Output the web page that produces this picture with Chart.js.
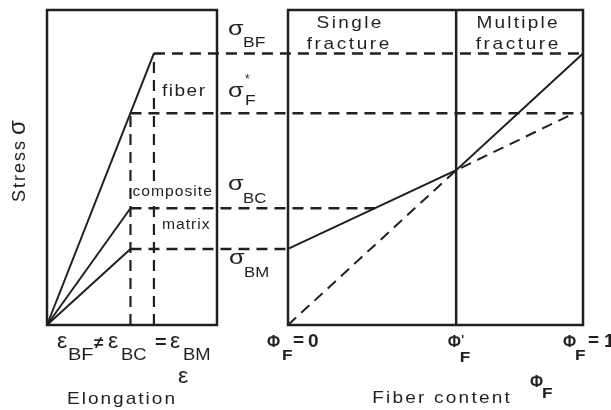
<!DOCTYPE html>
<html>
<head>
<meta charset="utf-8">
<script src="https://cdn.jsdelivr.net/npm/chart.js@4/dist/chart.umd.min.js"></script>
<style>
  html, body { margin: 0; padding: 0; background: #fff; }
  #wrap { width: 611px; height: 410px; }
</style>
</head>
<body>
<div id="wrap"><canvas id="stressChart" width="611" height="410"></canvas></div>
<script>
// ================= DATA =================
// stress levels in arbitrary units (sigma_BF = 100)
const stressLevels = [100, 78, 43, 28];            // σBF, σF*, σBC, σBM
const stressNames  = ['BF', 'F', 'BC', 'BM'];
// strain marks, left box width = 1
const strainMarks  = [0.629, 0.491];               // εBF, εBC = εBM
// fiber content ticks
const phiTicks     = [0, 0.57, 1];                 // ΦF = 0, Φ'F, ΦF = 1

// left panel: stress-strain lines up to fracture
const curveNames   = ['fiber', 'composite', 'matrix'];
const curveStrain  = [0.629, 0.491, 0.491];
const curveStress  = [100, 43, 28];

// right panel: strength vs fiber content
const mixPhi       = [0, 0.57, 1];
const mixStress    = [28, 57, 100];
const fiberPhi     = [0, 0.57, 0.97];
const fiberStress  = [0, 57, 78];

// ================= HELPERS =================
const INK = '#231f20';
const FONT = '"Liberation Sans", Arial, sans-serif';
const DASH = [11, 7];
const Y_MAX = 116;

let ctxRef = null;

// draws text stretched by sx with letter spacing ls, returns drawn width
function txt(str, x, y, size, bold, sx, align, ls) {
    const ctx = ctxRef;
    sx = sx || 1;
    ls = ls || 0;
    ctx.save();
    ctx.font = (bold ? 'bold ' : '') + size + 'px ' + FONT;
    ctx.textAlign = 'left';
    const chars = [...str];
    const ws = chars.map(c => ctx.measureText(c).width * sx);
    const w = ws.reduce((a, b) => a + b, 0) + ls * (chars.length - 1);
    let cx = x;
    if (align === 'center') cx = x - w / 2;
    if (align === 'right') cx = x - w;
    chars.forEach((c, i) => {
        ctx.save();
        ctx.translate(cx, y);
        ctx.scale(sx, 1);
        ctx.fillText(c, 0, 0);
        ctx.restore();
        cx += ws[i] + ls;
    });
    ctx.restore();
    return w;
}

function crossPhi(s) {
    for (let i = 1; i < mixPhi.length; i++) {
        if (s <= mixStress[i]) {
            const f = (s - mixStress[i - 1]) / (mixStress[i] - mixStress[i - 1]);
            return mixPhi[i - 1] + f * (mixPhi[i] - mixPhi[i - 1]);
        }
    }
    return 1;
}

const line = (xs, ys, axis, extra) => Object.assign({
    data: xs.map((x, i) => ({ x, y: ys[i] })),
    xAxisID: axis,
    yAxisID: 'y',
    showLine: true,
    pointRadius: 0,
    borderColor: INK,
    borderWidth: 2,
    clip: false
}, extra || {});

// ================= DATASETS =================
const datasets = [];
curveNames.forEach((name, i) => {
    datasets.push(line([0, curveStrain[i]], [0, curveStress[i]], 'xe', { label: name }));
});
datasets.push(line([strainMarks[0], strainMarks[0]], [0, stressLevels[0]], 'xe', { borderDash: DASH, borderWidth: 2.2 }));
datasets.push(line([strainMarks[1], strainMarks[1]], [0, stressLevels[1]], 'xe', { borderDash: DASH, borderWidth: 2.2 }));
datasets.push(line(mixPhi, mixStress, 'xp', { label: 'composite strength' }));
datasets.push(line(fiberPhi, fiberStress, 'xp', { borderDash: DASH, label: 'fiber only' }));

// ================= PLUGINS =================
// horizontal guides from the strain panel across to the fiber-content panel
const guidePlugin = {
    id: 'guides',
    beforeDatasetsDraw(chart) {
        const { ctx, scales } = chart;
        const guides = [
            [strainMarks[0], 1, stressLevels[0]],
            [strainMarks[1], 1, stressLevels[1]],
            [strainMarks[1], crossPhi(stressLevels[2]), stressLevels[2]],
            [strainMarks[1], 0, stressLevels[3]]
        ];
        ctx.save();
        ctx.strokeStyle = INK;
        ctx.lineWidth = 2.5;
        ctx.setLineDash(DASH);
        guides.forEach(([eps, phi, s]) => {
            const y = scales.y.getPixelForValue(s);
            ctx.beginPath();
            ctx.moveTo(scales.xe.getPixelForValue(eps), y);
            ctx.lineTo(scales.xp.getPixelForValue(phi), y);
            ctx.stroke();
        });
        ctx.restore();
    }
};

const framePlugin = {
    id: 'frames',
    afterDatasetsDraw(chart) {
        const { ctx, scales } = chart;
        const { xe, xp, y } = scales;
        const top = y.getPixelForValue(Y_MAX);
        const bot = y.getPixelForValue(0);
        ctx.save();
        ctx.strokeStyle = INK;
        ctx.lineWidth = 2.5;
        const l0 = xe.getPixelForValue(0), l1 = xe.getPixelForValue(1);
        ctx.strokeRect(l0, top, l1 - l0, bot - top);
        const r0 = xp.getPixelForValue(0), r1 = xp.getPixelForValue(1);
        ctx.strokeRect(r0, top, r1 - r0, bot - top);
        const pm = xp.getPixelForValue(phiTicks[1]);
        ctx.beginPath();
        ctx.moveTo(pm, top);
        ctx.lineTo(pm, bot);
        ctx.stroke();
        ctx.restore();
    }
};

const labelPlugin = {
    id: 'labels',
    afterDraw(chart) {
        const { ctx, scales } = chart;
        const { xe, xp, y } = scales;
        ctxRef = ctx;
        ctx.save();
        ctx.fillStyle = INK;
        ctx.textBaseline = 'alphabetic';

        // sigma labels between the panels
        const sx = 228;
        const sy = stressLevels.map(s => y.getPixelForValue(s));
        txt('σ', sx, sy[0] - 18, 21, false, 1.2);
        txt(stressNames[0], sx + 15, sy[0] - 6, 14, false, 1.25);
        txt('σ', sx, sy[1] - 16, 21, false, 1.2);
        txt('*', sx + 17, sy[1] - 30, 12);
        txt(stressNames[1], sx + 17, sy[1] - 8, 14, false, 1.25);
        txt('σ', sx, sy[2] - 18, 21, false, 1.2);
        txt(stressNames[2], sx + 15, sy[2] - 5, 14, false, 1.2);
        txt('σ', sx + 1, sy[3] + 15, 21, false, 1.2);
        txt(stressNames[3], sx + 16, sy[3] + 28, 14, false, 1.2);

        // curve names in the left panel
        const xBF = xe.getPixelForValue(strainMarks[0]);
        const xBC = xe.getPixelForValue(strainMarks[1]);
        txt(curveNames[0], xBF + 8, y.getPixelForValue(84.5), 17, false, 1.12, 'left', 1.5);
        const cy = y.getPixelForValue(47.5);
        ctx.fillStyle = '#fff';
        ctx.fillRect(xBC + 2, cy - 12, 82, 16);
        ctx.fillStyle = INK;
        txt(curveNames[1], xBC + 2, cy, 14, false, 1.12, 'left', 1);
        txt(curveNames[2], xBF + 8, y.getPixelForValue(35.5), 14, false, 1.12, 'left', 1);

        // region titles in the right panel
        txt('Single', 349, 28, 17, false, 1.12, 'center', 2.4);
        txt('fracture', 348, 49, 17, false, 1.12, 'center', 2.6);
        txt('Multiple', 517, 28, 17, false, 1.12, 'center', 2.2);
        txt('fracture', 517, 49, 17, false, 1.12, 'center', 2.6);

        // strain tick row
        const e0 = xe.getPixelForValue(0);
        txt('ε', e0 + 10, 348, 22, false, 1.05);
        txt('BF', e0 + 21, 360, 16, false, 1.25);
        txt('≠', e0 + 47, 348, 17, true);
        txt('ε', e0 + 61, 348, 22, false, 1.05);
        txt('BC', e0 + 74, 360, 16, false, 1.15);
        txt('=', e0 + 108, 348, 18, true, 1.1);
        txt('ε', e0 + 123, 348, 22, false, 1.05);
        txt('BM', e0 + 136, 360, 16, false, 1.15);
        txt('ε', 178, 383, 22, false, 1.05);

        // fiber content tick row
        const p0 = xp.getPixelForValue(phiTicks[0]);
        txt('Φ', p0 - 21, 347, 16, true);
        txt('F', p0 - 6, 360, 15, true, 1.15);
        txt('=', p0 + 5, 346, 19, true);
        txt('0', p0 + 20, 347, 19, true);
        const pm = xp.getPixelForValue(phiTicks[1]);
        txt('Φ', pm - 8.5, 347, 16, true);
        txt("'", pm + 5, 344, 12, true);
        txt('F', pm + 3.5, 362, 15, true, 1.15);
        const p1 = xp.getPixelForValue(phiTicks[2]);
        txt('Φ', p1 - 20, 347, 16, true);
        txt('F', p1 - 8, 360, 15, true, 1.15);
        txt('=', p1 + 5, 346, 19, true);
        txt('1', p1 + 21, 347, 19, true);
        txt('Φ', 530, 387, 16, true);
        txt('F', 542, 398, 15, true, 1.15);

        // axis titles
        txt('Elongation', 121, 404, 17, false, 1.12, 'center', 2);
        txt('Fiber content', 441, 403, 17, false, 1.12, 'center', 2.2);

        ctx.translate(25, 161);
        ctx.rotate(-Math.PI / 2);
        ctx.font = '18px ' + FONT;
        const w1 = [...'Stress'].reduce((a, c) => a + ctx.measureText(c).width, 0) + 2 * 5;
        ctx.font = '24px ' + FONT;
        const w2 = ctx.measureText('σ').width;
        let cx = -(w1 + 6 + w2) / 2;
        ctx.font = '18px ' + FONT;
        [...'Stress'].forEach(c => {
            ctx.fillText(c, cx, 0);
            cx += ctx.measureText(c).width + 2;
        });
        ctx.font = '24px ' + FONT;
        ctx.fillText('σ', cx + 4, 0);
        ctx.restore();
    }
};

// ================= CHART =================
new Chart(document.getElementById('stressChart'), {
    type: 'scatter',
    data: { datasets },
    options: {
        responsive: false,
        animation: false,
        layout: { padding: { left: 47, right: 28, top: 10, bottom: 85 } },
        plugins: { legend: { display: false }, tooltip: { enabled: false } },
        scales: {
            xe: { type: 'linear', position: 'bottom', display: false, min: 0, max: 536 / 170 },
            xp: { type: 'linear', position: 'bottom', display: false, min: -241 / 295, max: 1 },
            y: { type: 'linear', display: false, min: 0, max: Y_MAX }
        }
    },
    plugins: [guidePlugin, framePlugin, labelPlugin]
});
</script>
</body>
</html>
